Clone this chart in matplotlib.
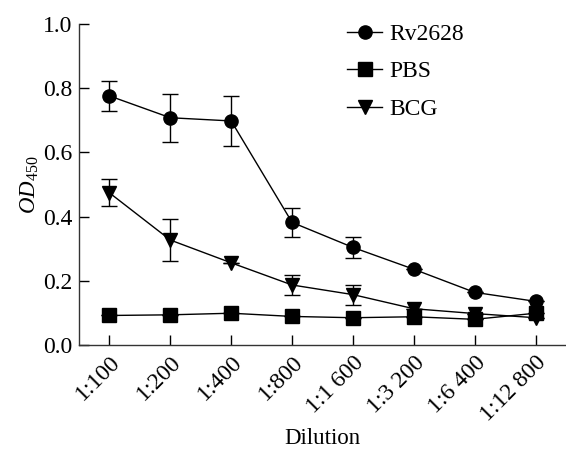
import matplotlib
matplotlib.use("Agg")
import matplotlib.pyplot as plt
from matplotlib.lines import Line2D
import numpy as np

plt.rcParams['font.family'] = ['Liberation Serif', 'DejaVu Serif']
plt.rcParams['mathtext.fontset'] = 'custom'
plt.rcParams['mathtext.rm'] = 'Liberation Serif'
plt.rcParams['mathtext.it'] = 'Liberation Serif:italic'

dilutions = ['1:100', '1:200', '1:400', '1:800', '1:1 600', '1:3 200', '1:6 400', '1:12 800']
rv2628 = [0.776, 0.708, 0.698, 0.382, 0.304, 0.236, 0.164, 0.136]
rv2628_err = [0.048, 0.075, 0.078, 0.045, 0.033, 0.0, 0.0, 0.0]
pbs = [0.092, 0.094, 0.099, 0.089, 0.085, 0.088, 0.080, 0.099]
pbs_err = [0, 0, 0, 0, 0, 0, 0, 0]
bcg = [0.474, 0.327, 0.256, 0.187, 0.157, 0.113, 0.098, 0.085]
bcg_err = [0.042, 0.064, 0.0, 0.031, 0.031, 0.0, 0.0, 0.0]

fig = plt.figure(figsize=(5.66, 4.53), dpi=100)
ax = fig.add_axes([0.1396, 0.2384, 0.8604, 0.7086])

x = np.arange(len(dilutions))
common = dict(color='black', lw=1.0, ms=9.5, capsize=6, elinewidth=1.0, capthick=1.0)
ax.errorbar(x, rv2628, yerr=rv2628_err, marker='o', **common)
ax.errorbar(x, pbs, yerr=pbs_err, marker='s', **common)
ax.errorbar(x, bcg, yerr=bcg_err, marker='v', **common)

ax.set_xlim(-0.5, 7.5)
ax.set_ylim(0, 1.0)
ax.set_yticks([0, 0.2, 0.4, 0.6, 0.8, 1.0])
ax.set_yticklabels(['0.0', '0.2', '0.4', '0.6', '0.8', '1.0'])
ax.set_xticks(x)
ax.set_xticklabels(dilutions, rotation=45, ha='right', rotation_mode='anchor')
ax.tick_params(direction='in', length=7, width=1.0, labelsize=17, colors='black')
ax.tick_params(axis='x', pad=5)
ax.tick_params(axis='y', pad=5)
for s in ['top', 'right']:
    ax.spines[s].set_visible(False)
for s in ['left', 'bottom']:
    ax.spines[s].set_linewidth(1.0)
    ax.spines[s].set_color('#333333')

ax.set_ylabel(r'$\mathit{OD}_{\mathrm{450}}$', fontsize=16.5, labelpad=1)
ax.set_xlabel('Dilution', fontsize=16.5, labelpad=2)

handles = [
    Line2D([], [], color='black', lw=1.0, marker='o', ms=9.5),
    Line2D([], [], color='black', lw=1.0, marker='s', ms=9.5),
    Line2D([], [], color='black', lw=1.0, marker='v', ms=9.5),
]
leg = fig.legend(handles, ['Rv2628', 'PBS', 'BCG'], loc='upper left',
                 bbox_to_anchor=(0.584, 0.985), frameon=False, fontsize=17,
                 handlelength=1.5, handletextpad=0.3, labelspacing=0.68,
                 borderpad=0.2)

fig.savefig('out.png', dpi=100)
